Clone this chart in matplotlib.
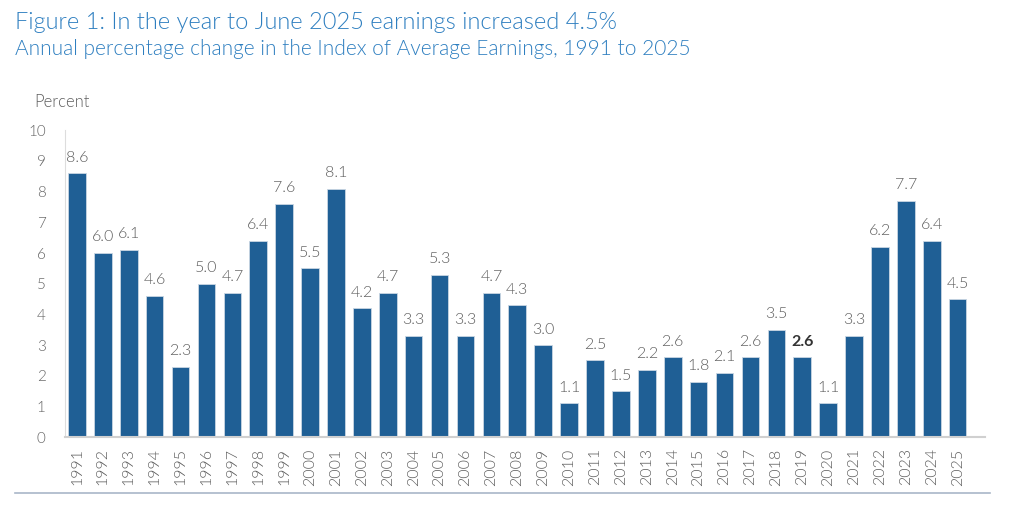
import matplotlib.pyplot as plt

years = [str(y) for y in range(1991, 2026)]
values = [8.6, 6.0, 6.1, 4.6, 2.3, 5.0, 4.7, 6.4, 7.6, 5.5, 8.1, 4.2, 4.7, 3.3, 5.3,
          3.3, 4.7, 4.3, 3.0, 1.1, 2.5, 1.5, 2.2, 2.6, 1.8, 2.1, 2.6, 3.5, 2.6, 1.1,
          3.3, 6.2, 7.7, 6.4, 4.5]
bold_year = "2019"

plt.rcParams['font.family'] = ['Lato', 'DejaVu Sans']
thin = 300

fig = plt.figure(figsize=(10.24, 5.09), dpi=100)
ax = fig.add_axes([0.0635, 0.141, 0.898, 0.603])

bar_color = '#1f5f95'
x = range(len(years))
ax.bar(x, values, width=0.68, color=bar_color, edgecolor='#c9d6e3', linewidth=0.6, zorder=2)

for i, (yr, v) in enumerate(zip(years, values)):
    bold = yr == bold_year
    ax.text(i, v + 0.28, f"{v:.1f}", ha='center', va='bottom', fontsize=11.5,
            color='#333333' if bold else '#5e5e5e', fontweight='bold' if bold else thin)

ax.set_xlim(-0.46, len(years) + 0.04)
ax.set_ylim(0, 10)
ax.set_yticks(range(0, 11))
ax.set_xticks(list(x))
ax.set_xticklabels(years, rotation=90, fontsize=11.5, color='#5e5e5e', fontweight=thin)
ax.set_yticklabels([str(t) for t in range(0, 11)], fontweight=thin)
ax.tick_params(axis='y', length=0, labelsize=11, labelcolor='#666666', pad=14)
ax.tick_params(axis='x', length=0, pad=8)

for side in ['top', 'right']:
    ax.spines[side].set_visible(False)
ax.spines['left'].set_color('#dddddd')
ax.spines['left'].set_linewidth(0.8)
ax.spines['bottom'].set_color('#d0d0d0')
ax.spines['bottom'].set_linewidth(1.5)

fig.text(0.015, 0.955, "Figure 1: In the year to June 2025 earnings increased 4.5%",
         fontsize=17, color='#2e7fc0', ha='left', va='center', fontweight=thin)
fig.text(0.015, 0.903, "Annual percentage change in the Index of Average Earnings, 1991 to 2025",
         fontsize=15, color='#2e7fc0', ha='left', va='center', fontweight=thin)
fig.text(0.033, 0.8, "Percent", fontsize=12, color='#5e5e5e', ha='left', va='center',
         fontweight=thin)

fig.add_artist(plt.Line2D([0.015, 0.967], [0.031, 0.031], color='#a9b6c8', linewidth=1.2))

fig.savefig('out.png', dpi=100)
